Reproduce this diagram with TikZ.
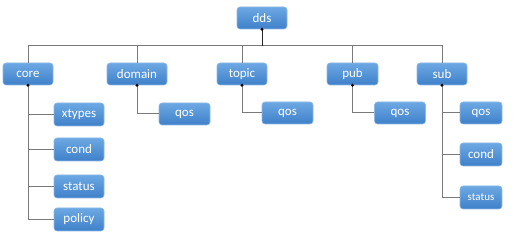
\documentclass[tikz,border=0pt]{standalone}
\usepackage{fontspec}
\setmainfont{Carlito}
\definecolor{boxtop}{HTML}{6CA8E3}
\definecolor{boxbot}{HTML}{3F80C9}
\definecolor{boxedge}{HTML}{8DB9E6}
\definecolor{linegray}{HTML}{7A7A7A}
\begin{document}
\begin{tikzpicture}[x=1pt,y=-1pt,
  box/.style={draw=boxedge,line width=0.6pt,rounded corners=3pt,top color=boxtop,bottom color=boxbot,
    text=white,font=\fontsize{13}{14}\selectfont,inner sep=0pt,minimum height=22pt,minimum width=50pt},
  conn/.style={draw=linegray,line width=1pt},
  dot/.style={circle,fill=black,inner sep=0pt,minimum size=3.2pt}]
\useasboundingbox (0,0) rectangle (514,240);
% root
\node[box] (dds) at (262,18) {dds};
% level 1
\node[box] (core) at (28,74) {core};
\node[box,minimum width=60pt] (domain) at (137,74) {domain};
\node[box] (topic) at (242,74) {topic};
\node[box,minimum width=51pt] (pub) at (352.5,74) {pub};
\node[box] (sub) at (442,74) {sub};
% level 2
\node[box,minimum height=23pt] (xtypes) at (79,114.5) {xtypes};
\node[box,minimum height=23pt] (ccond) at (79,149.5) {cond};
\node[box,minimum height=23pt] (cstatus) at (79,186.5) {status};
\node[box,minimum height=23pt] (policy) at (79,219.5) {policy};
\node[box,minimum width=51pt] (dqos) at (184.5,114) {qos};
\node[box,minimum width=51pt] (tqos) at (287.5,113) {qos};
\node[box,minimum width=51pt] (pqos) at (400,113) {qos};
\node[box,minimum width=42pt] (sqos) at (481,113) {qos};
\node[box,minimum width=42pt,minimum height=23pt] (scond) at (481,154.5) {cond};
\node[box,minimum width=42pt,minimum height=23pt,font=\fontsize{11}{12}\selectfont] (sstatus) at (481,197.5) {status};
% bus
\coordinate (bus) at (262,46);
\foreach \c in {core,domain,topic,pub,sub}{
  \draw[conn] (\c.north) |- (bus);
}
\draw[line width=1pt,draw=black!85] (dds.south) -- (bus);
% children connectors
\foreach \p/\c in {core/xtypes,core/ccond,core/cstatus,core/policy,domain/dqos,topic/tqos,pub/pqos,sub/sqos,sub/scond,sub/sstatus}{
  \draw[conn] (\p.south) |- (\c.west);
}
% dots
\foreach \n in {dds,core,domain,topic,pub,sub}{
  \node[dot] (\n-dot) at (\n.south) {};
}
\end{tikzpicture}
\end{document}
